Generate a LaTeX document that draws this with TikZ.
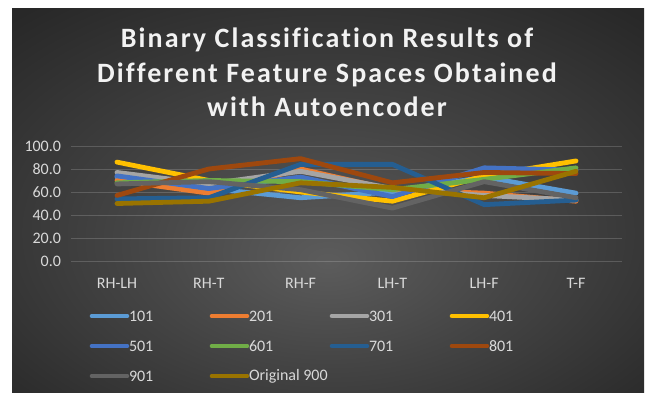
\documentclass[tikz,border=0pt]{standalone}
\usepackage{fontspec}
\setmainfont{Carlito}[Ligatures=NoCommon]
\newfontfamily\titlefont[LetterSpace=7.5,Ligatures=NoCommon]{Carlito}
\definecolor{c101}{HTML}{5B9BD5}
\definecolor{c201}{HTML}{ED7D31}
\definecolor{c301}{HTML}{A5A5A5}
\definecolor{c401}{HTML}{FFC000}
\definecolor{c501}{HTML}{4472C4}
\definecolor{c601}{HTML}{70AD47}
\definecolor{c701}{HTML}{255E91}
\definecolor{c801}{HTML}{9E480E}
\definecolor{c901}{HTML}{636363}
\definecolor{c900}{HTML}{997300}
\definecolor{bgin}{HTML}{5C5C5C}
\definecolor{bgmid}{HTML}{444444}
\definecolor{bgout}{HTML}{282828}
\definecolor{labc}{HTML}{D9D9D9}
\definecolor{titc}{HTML}{F2F2F2}
\pgfdeclareradialshading{bgshade}{\pgfpoint{0bp}{-8bp}}{color(0bp)=(bgin); color(16bp)=(bgmid); color(36bp)=(bgout); color(50bp)=(bgout)}
\begin{document}
\begin{tikzpicture}[x=1pt,y=-1pt,
  every node/.style={inner sep=0pt,outer sep=0pt},
  serie/.style={line width=4.8pt,line cap=round,line join=round},
  legline/.style={line width=4.6pt,line cap=round},
  axlab/.style={text=labc,font=\fontsize{16}{19}\selectfont},
  titlab/.style={text=titc,font=\titlefont\bfseries\fontsize{28}{33}\selectfont,anchor=base},
  grid/.style={draw=white,draw opacity=.17,line width=0.9pt}]
\useasboundingbox (0,0) rectangle (646,393);
\fill[white] (0,0) rectangle (646,393);
\shade[shading=bgshade] (12,9) rectangle (644,393);
% title
\node[titlab] (t1) at (327,48) {Binary Classification Results of};
\node[titlab] (t2) at (327,83) {Different Feature Spaces Obtained};
\node[titlab] (t3) at (327,117) {with Autoencoder};
% grid and y labels
\foreach \v [count=\k] in {0,20,40,60,80,100}{
  \draw[grid] (71,{261-1.15*\v}) -- (622,{261-1.15*\v});
  \node[axlab,anchor=east] (y\k) at (61,{261-1.15*\v}) {\v.0};
}
% x labels
\foreach \c [count=\i from 0] in {RH-LH,RH-T,RH-F,LH-T,LH-F,T-F}{
  \node[axlab] (x\i) at ({117+91.8*\i},283) {\c};
}
% series
\foreach \s/\col/\vals in {
  101/c101/{73,63,55,60,73,59},
  201/c201/{70,59,80,62,59,52},
  301/c301/{77,67,78,63,57,53},
  401/c401/{86,70,60,52,74,87},
  501/c501/{74,63,73,56,81,79},
  601/c601/{68,70,69,62,71,81},
  701/c701/{54,55,84,84,49,53},
  801/c801/{57,80,89,68,77,76},
  901/c901/{67,69,62,46,69,55},
  900/c900/{50,52,68,64,55,78}}{
  \foreach \v [count=\i from 0] in \vals {
    \coordinate (p\s-\i) at ({117+91.8*\i},{261-1.15*\v});
  }
  \draw[serie,draw=\col] (p\s-0) -- (p\s-1) -- (p\s-2) -- (p\s-3) -- (p\s-4) -- (p\s-5);
}
% legend
\foreach \s/\col/\lab [count=\k from 0] in {
  101/c101/101, 201/c201/201, 301/c301/301, 401/c401/401,
  501/c501/501, 601/c601/601, 701/c701/701, 801/c801/801,
  901/c901/901, 900/c900/Original 900}{
  \pgfmathsetmacro\lx{92+120*mod(\k,4)}
  \pgfmathsetmacro\ly{316+30*floor(\k/4)}
  \coordinate (la\s) at (\lx,\ly);
  \coordinate (lb\s) at (\lx+35,\ly);
  \draw[legline,draw=\col] (la\s) -- (lb\s);
  \node[axlab,anchor=west] (L\s) at (\lx+37,\ly) {\lab};
}
\end{tikzpicture}
\end{document}
